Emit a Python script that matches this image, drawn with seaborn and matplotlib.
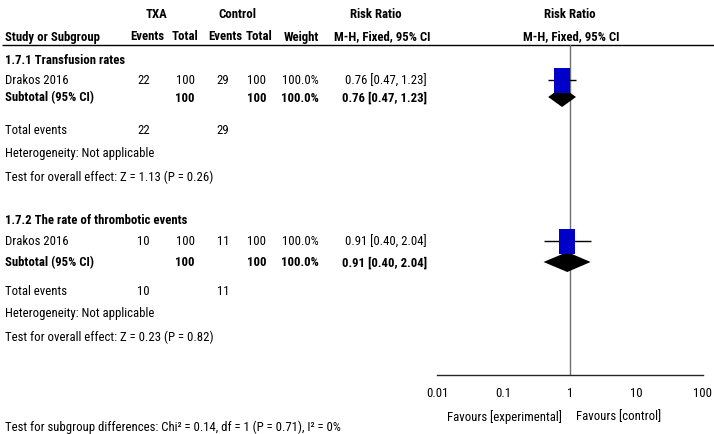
import numpy as np
import matplotlib
matplotlib.use("Agg")
import matplotlib.pyplot as plt
import seaborn as sns

# ---- Data ----
group_titles = ["1.7.1 Transfusion rates", "1.7.2 The rate of thrombotic events"]
study_names = ["Drakos 2016", "Drakos 2016"]
txa_events = [22, 10]
txa_total = [100, 100]
ctrl_events = [29, 11]
ctrl_total = [100, 100]
weights = [100.0, 100.0]
rr = [0.76, 0.91]
rr_lo = [0.47, 0.40]
rr_hi = [1.23, 2.04]
sub_rr = [0.76, 0.91]
sub_lo = [0.47, 0.40]
sub_hi = [1.23, 2.04]
z_vals = [1.13, 0.23]
p_vals = [0.26, 0.82]
x_ticks = [0.01, 0.1, 1, 10, 100]
x_tick_labels = ["0.01", "0.1", "1", "10", "100"]
subgroup_test = "Test for subgroup differences: Chi² = 0.14, df = 1 (P = 0.71), I² = 0%"

# ---- Settings ----
sns.set_style("white")
plt.rcParams['font.family'] = ['Roboto Condensed', 'Liberation Sans', 'DejaVu Sans']
FS = 9.2

W, H = 714, 435
fig = plt.figure(figsize=(W / 100, H / 100), dpi=100)

# text layer in pixel coordinates
ax_t = fig.add_axes([0, 0, 1, 1])
ax_t.set_xlim(0, W)
ax_t.set_ylim(H, 0)
ax_t.axis('off')

# forest panel: x in risk ratio (log), y in pixel rows
fx0, fx1, fy0, fy1 = 437, 703, 46, 376
ax_f = fig.add_axes([fx0 / W, (H - fy1) / H, (fx1 - fx0) / W, (fy1 - fy0) / H])
ax_f.set_xscale('log')
ax_f.set_xlim(x_ticks[0], x_ticks[-1])
ax_f.set_ylim(fy1, fy0)
ax_f.patch.set_alpha(0)
for s in ['top', 'left', 'right']:
    ax_f.spines[s].set_visible(False)
ax_f.spines['bottom'].set_linewidth(1)
ax_f.set_yticks([])
ax_f.set_xticks(x_ticks)
ax_f.set_xticklabels(x_tick_labels)
ax_f.minorticks_off()
ax_f.tick_params(axis='x', direction='inout', length=8, width=1, pad=4, labelsize=FS, colors='k')
ax_f.axvline(1, color='#707070', lw=1, zorder=1)


def txt(x, y, s, ha='left', bold=False):
    ax_t.text(x, y, s, ha=ha, va='center', fontsize=FS,
              fontweight='bold' if bold else 'normal', color='k')


# ---- Header ----
txt(157, 14, "TXA", ha='center', bold=True)
txt(237, 14, "Control", ha='center', bold=True)
txt(376, 14, "Risk Ratio", ha='center', bold=True)
txt(570, 14, "Risk Ratio", ha='center', bold=True)
txt(5, 37, "Study or Subgroup", bold=True)
txt(147, 37, "Events", ha='center', bold=True)
txt(185, 37, "Total", ha='center', bold=True)
txt(225, 37, "Events", ha='center', bold=True)
txt(259, 37, "Total", ha='center', bold=True)
txt(301, 37, "Weight", ha='center', bold=True)
txt(382, 37, "M-H, Fixed, 95% CI", ha='center', bold=True)
txt(571, 37, "M-H, Fixed, 95% CI", ha='center', bold=True)
ax_t.hlines(46, 2, W, color='k', lw=1)

# column right edges
c_te, c_tt, c_ce, c_ct, c_w, c_rr = 150, 195, 229, 266, 319, 427

# row positions (pixel centres) per subgroup
row_title = [60, 221]
row_study = [81, 242]
row_sub = [98, 263]
row_tot = [131, 292]
row_het = [154, 314]
row_test = [177, 337]

for g in range(len(group_titles)):
    txt(5, row_title[g], group_titles[g], bold=True)
    # study row
    y = row_study[g]
    txt(5, y, study_names[g])
    txt(c_te, y, f"{txa_events[g]}", ha='right')
    txt(c_tt, y, f"{txa_total[g]}", ha='right')
    txt(c_ce, y, f"{ctrl_events[g]}", ha='right')
    txt(c_ct, y, f"{ctrl_total[g]}", ha='right')
    txt(c_w, y, f"{weights[g]:.1f}%", ha='right')
    txt(c_rr, y, f"{rr[g]:.2f} [{rr_lo[g]:.2f}, {rr_hi[g]:.2f}]", ha='right')
    # subtotal row
    y = row_sub[g]
    txt(5, y, "Subtotal (95% CI)", bold=True)
    txt(c_tt, y, f"{txa_total[g]}", ha='right', bold=True)
    txt(c_ct, y, f"{ctrl_total[g]}", ha='right', bold=True)
    txt(c_w, y, f"{weights[g]:.1f}%", ha='right', bold=True)
    txt(c_rr, y, f"{sub_rr[g]:.2f} [{sub_lo[g]:.2f}, {sub_hi[g]:.2f}]", ha='right', bold=True)
    # totals / stats
    txt(5, row_tot[g], "Total events")
    txt(c_te, row_tot[g], f"{txa_events[g]}", ha='right')
    txt(c_ce, row_tot[g], f"{ctrl_events[g]}", ha='right')
    txt(5, row_het[g], "Heterogeneity: Not applicable")
    txt(5, row_test[g], f"Test for overall effect: Z = {z_vals[g]:.2f} (P = {p_vals[g]:.2f})")

    # forest marks
    ax_f.hlines(row_study[g], rr_lo[g], rr_hi[g], color='k', lw=1, zorder=2)
    half = 10
    ax_f.fill([sub_lo[g], sub_rr[g], sub_hi[g], sub_rr[g]],
              [row_sub[g], row_sub[g] - half, row_sub[g], row_sub[g] + half],
              color='k', lw=0, zorder=3)

# study squares (size reflects weight)
rect = [(-0.64, -1), (0.64, -1), (0.64, 1), (-0.64, 1), (-0.64, -1)]
sns.scatterplot(x=rr, y=row_study, marker=rect, s=[3.24 * w for w in weights],
                color='#0000c8', edgecolor='none', linewidth=0, ax=ax_f, zorder=4, legend=False)
ax_f.set_xlabel('')
ax_f.set_ylabel('')
ax_f.set_ylim(fy1, fy0)

# favours labels
txt(562, 417, "Favours [experimental]", ha='right')
txt(576, 417, "Favours [control]", ha='left')

txt(5, 427, subgroup_test)

fig.savefig('out.png', dpi=100)
